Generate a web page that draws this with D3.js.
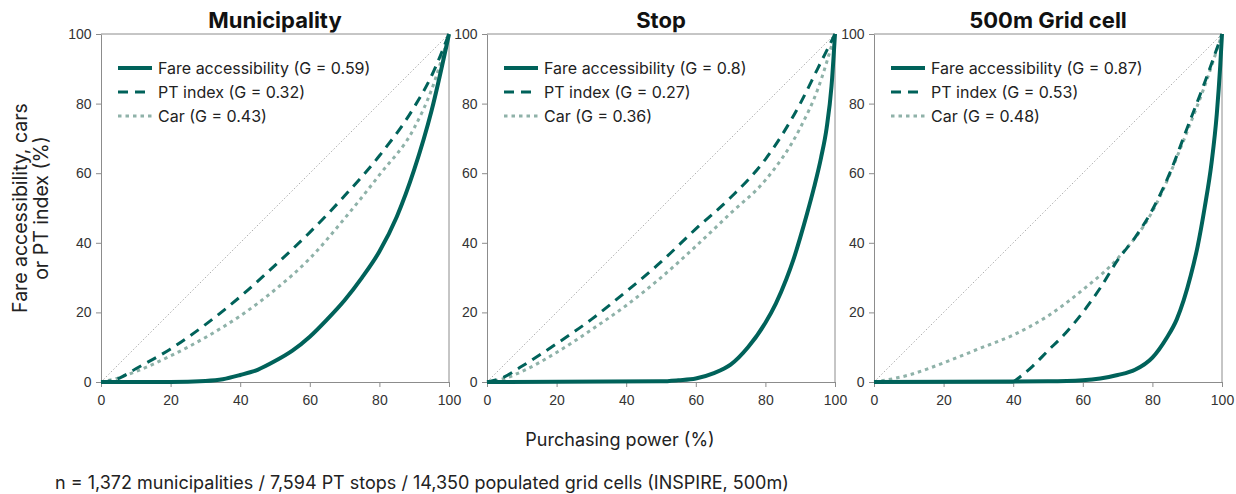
<!DOCTYPE html>
<html>
<head>
<meta charset="utf-8">
<script src="https://cdn.jsdelivr.net/npm/d3@7"></script>
<style>
  body { margin: 0; background: #fff; }
  svg { font-family: Inter, "Noto Sans", sans-serif; }
  .tick text { font-size: 14px; fill: #333; }
  .tick line, .domain { stroke: #8c8c8c; }
</style>
</head>
<body>
<svg id="chart" width="1236" height="494"></svg>
<script>
'use strict';

// panel titles and legend labels
var panelTitles = ['Municipality', 'Stop', '500m Grid cell'];
var fareLabels = ['Fare accessibility (G = 0.59)', 'Fare accessibility (G = 0.8)', 'Fare accessibility (G = 0.87)'];
var ptLabels = ['PT index (G = 0.32)', 'PT index (G = 0.27)', 'PT index (G = 0.53)'];
var carLabels = ['Car (G = 0.43)', 'Car (G = 0.36)', 'Car (G = 0.48)'];
var tickValues = [0, 20, 40, 60, 80, 100];

// lorenz curves, [purchasing power %, cumulative share %]
var fareMunicipality = [[0,0],[10,0],[20,0],[30,0.3],[35,0.8],[40,2],[45,3.5],[50,6],[55,9],[60,13],[65,18],[70,23.5],[75,30],[80,37.5],[85,47.5],[90,61],[95,78],[100,100]];
var ptMunicipality = [[0,0],[3,0.3],[5,1],[10,3.8],[20,9.5],[30,16.5],[40,24.5],[50,33.5],[60,43],[70,53.5],[80,65],[90,79],[95,88],[100,100]];
var carMunicipality = [[0,0],[5,1.2],[10,3],[20,7.5],[30,12.8],[40,19],[50,26.5],[60,35.5],[70,47],[80,59.5],[90,73],[95,84],[100,100]];

var fareStop = [[0,0],[50,0.2],[55,0.5],[60,1],[65,2.5],[70,5],[75,10],[80,17],[83,22.5],[86,29.5],[88,35],[90,41.5],[92,48.5],[94,56],[96,64.5],[97.6,73],[99,85],[100,100]];
var ptStop = [[0,0],[5,1.5],[10,4.5],[20,11],[30,18],[40,26],[50,34.5],[60,44],[70,53],[80,64],[90,80],[95,90],[100,100]];
var carStop = [[0,0],[5,1],[10,3],[20,8.5],[30,15],[40,22],[50,30],[60,39],[70,48.5],[80,58],[90,73],[95,84],[100,100]];

var fareGrid = [[0,0],[50,0.2],[60,0.5],[65,1],[70,2],[75,3.5],[80,7],[84,12.5],[87,18],[89,23.5],[91,30.5],[93,39],[95,50],[97,63],[98.5,77],[99.5,91],[100,100]];
var ptGrid = [[40,0],[45,4],[50,9],[55,14],[60,20],[65,27],[70,35],[75,41.5],[80,49.5],[85,60],[90,73],[95,86],[100,100]];
var ptGridFlat = [[0,0],[40,0]];
var carGrid = [[0,0],[10,2],[20,5.5],[30,9.5],[40,13.5],[50,19],[60,26.5],[70,35.5],[80,49],[90,72],[95,85],[100,100]];

var fareSeries = [fareMunicipality, fareStop, fareGrid];
var ptSeries = [ptMunicipality, ptStop, ptGrid];
var carSeries = [carMunicipality, carStop, carGrid];

var dark = '#00625a';
var light = '#8fb2a9';

var svg = d3.select('#chart');
var panelLefts = [101, 487, 874];
var size = 348, panelTop = 34;

var x = d3.scaleLinear().domain([0, 100]).range([0, size]);
var y = d3.scaleLinear().domain([0, 100]).range([size, 0]);
var line = d3.line().x(function(d) { return x(d[0]); }).y(function(d) { return y(d[1]); }).curve(d3.curveMonotoneX);

panelLefts.forEach(function(left, i) {
  var g = svg.append('g').attr('transform', 'translate(' + left + ',' + panelTop + ')');

  g.append('text').attr('x', size / 2).attr('y', -6).attr('text-anchor', 'middle')
    .attr('font-size', 22).attr('font-weight', 700).attr('fill', '#111').text(panelTitles[i]);

  // frame top/right
  g.append('path').attr('d', 'M0,0H' + size + 'V' + size).attr('fill', 'none').attr('stroke', '#8c8c8c');

  var xAxis = g.append('g').attr('transform', 'translate(0,' + size + ')')
    .call(d3.axisBottom(x).tickValues(tickValues).tickSize(5).tickSizeOuter(0));
  xAxis.selectAll('.tick text').attr('dy', '1.05em');
  g.append('g').call(d3.axisLeft(y).tickValues(tickValues).tickSize(5).tickSizeOuter(0))
    .selectAll('.tick text').attr('dx', '-0.1em');

  // equality line
  g.append('path').attr('d', line([[0, 0], [100, 100]])).attr('fill', 'none')
    .attr('stroke', '#999').attr('stroke-width', 0.8).attr('stroke-dasharray', '1.5,2');

  g.append('path').attr('d', line(carSeries[i])).attr('fill', 'none')
    .attr('stroke', light).attr('stroke-width', 3).attr('stroke-dasharray', '3.5,4');
  if (i === 2) {
    g.append('path').attr('d', line(ptGridFlat)).attr('fill', 'none')
      .attr('stroke', dark).attr('stroke-width', 3);
  }
  g.append('path').attr('d', line(ptSeries[i])).attr('fill', 'none')
    .attr('stroke', dark).attr('stroke-width', 3).attr('stroke-dasharray', '10,7');
  g.append('path').attr('d', line(fareSeries[i])).attr('fill', 'none')
    .attr('stroke', dark).attr('stroke-width', 4);

  // legend
  var legend = [
    {label: fareLabels[i], color: dark, w: 4, dash: null},
    {label: ptLabels[i], color: dark, w: 3, dash: '10,7'},
    {label: carLabels[i], color: light, w: 3, dash: '3.5,4'}
  ];
  legend.forEach(function(item, k) {
    var ly = 34 + k * 24;
    g.append('line').attr('x1', 17).attr('x2', 51).attr('y1', ly).attr('y2', ly)
      .attr('stroke', item.color).attr('stroke-width', item.w).attr('stroke-dasharray', item.dash);
    g.append('text').attr('x', 57).attr('y', ly).attr('dy', '0.35em')
      .attr('font-size', 16).attr('fill', '#222').text(item.label);
  });
});

// y label
var yl = svg.append('text').attr('transform', 'translate(0,208) rotate(-90)')
  .attr('text-anchor', 'middle').attr('font-size', 19.5).attr('fill', '#222');
yl.append('tspan').attr('x', 0).attr('y', 27).text('Fare accessibility, cars');
yl.append('tspan').attr('x', 0).attr('y', 48).text('or PT index (%)');

svg.append('text').attr('x', 620).attr('y', 446).attr('text-anchor', 'middle')
  .attr('font-size', 18).attr('fill', '#222').text('Purchasing power (%)');

svg.append('text').attr('x', 55).attr('y', 489)
  .attr('font-size', 18).attr('fill', '#222')
  .text('n = 1,372 municipalities / 7,594 PT stops / 14,350 populated grid cells (INSPIRE, 500m)');
</script>
</body>
</html>
